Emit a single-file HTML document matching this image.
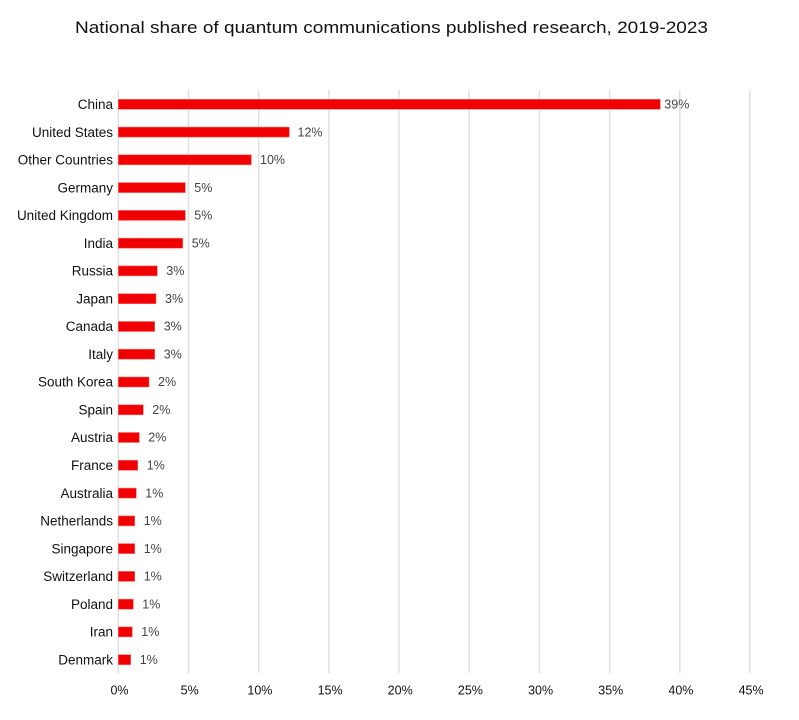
<!DOCTYPE html>
<html>
<head>
<meta charset="utf-8">
<style>
  html,body{margin:0;padding:0;background:#fff;}
  svg{display:block;}
  text{font-family:"Liberation Sans",Arial,sans-serif;}
</style>
</head>
<body>
<svg width="799" height="720" viewBox="0 0 799 720" xmlns="http://www.w3.org/2000/svg">
  <rect width="799" height="720" fill="#fff"/>
  <text x="75" y="33" font-size="17" fill="#111" textLength="633" lengthAdjust="spacingAndGlyphs">National share of quantum communications published research, 2019-2023</text>

  <!-- gridlines -->
  <g stroke="#e0e0e0" stroke-width="1.5">
    <line x1="118.3" y1="90" x2="118.3" y2="673"/>
    <line x1="188.5" y1="90" x2="188.5" y2="673"/>
    <line x1="258.7" y1="90" x2="258.7" y2="673"/>
    <line x1="328.9" y1="90" x2="328.9" y2="673"/>
    <line x1="399.0" y1="90" x2="399.0" y2="673"/>
    <line x1="469.2" y1="90" x2="469.2" y2="673"/>
    <line x1="539.4" y1="90" x2="539.4" y2="673"/>
    <line x1="609.6" y1="90" x2="609.6" y2="673"/>
    <line x1="679.7" y1="90" x2="679.7" y2="673"/>
    <line x1="749.9" y1="90" x2="749.9" y2="673"/>
  </g>

  <!-- tick labels -->
  <g font-size="12.5" fill="#111" text-anchor="middle">
    <text x="119.5" y="694.5">0%</text>
    <text x="189.7" y="694.5">5%</text>
    <text x="259.9" y="694.5">10%</text>
    <text x="330.1" y="694.5">15%</text>
    <text x="400.2" y="694.5">20%</text>
    <text x="470.4" y="694.5">25%</text>
    <text x="540.6" y="694.5">30%</text>
    <text x="610.8" y="694.5">35%</text>
    <text x="680.9" y="694.5">40%</text>
    <text x="751.1" y="694.5">45%</text>
  </g>

  <!-- bars -->
  <g fill="#f00000" stroke="#ff6b6b" stroke-width="0.6">
    <rect x="118.3" y="99.3" width="542.0" height="10"/>
    <rect x="118.3" y="127.1" width="171.0" height="10"/>
    <rect x="118.3" y="154.8" width="133.0" height="10"/>
    <rect x="118.3" y="182.6" width="67.0" height="10"/>
    <rect x="118.3" y="210.4" width="67.0" height="10"/>
    <rect x="118.3" y="238.2" width="64.4" height="10"/>
    <rect x="118.3" y="265.9" width="39.0" height="10"/>
    <rect x="118.3" y="293.7" width="37.7" height="10"/>
    <rect x="118.3" y="321.5" width="36.4" height="10"/>
    <rect x="118.3" y="349.2" width="36.4" height="10"/>
    <rect x="118.3" y="377.0" width="30.7" height="10"/>
    <rect x="118.3" y="404.8" width="25.0" height="10"/>
    <rect x="118.3" y="432.5" width="21.0" height="10"/>
    <rect x="118.3" y="460.3" width="19.4" height="10"/>
    <rect x="118.3" y="488.1" width="18.0" height="10"/>
    <rect x="118.3" y="515.9" width="16.4" height="10"/>
    <rect x="118.3" y="543.6" width="16.4" height="10"/>
    <rect x="118.3" y="571.4" width="16.4" height="10"/>
    <rect x="118.3" y="599.2" width="15.0" height="10"/>
    <rect x="118.3" y="626.9" width="14.0" height="10"/>
    <rect x="118.3" y="654.7" width="12.4" height="10"/>
  </g>

  <!-- category labels -->
  <g font-size="13.5" fill="#111" text-anchor="end">
    <text x="113" y="109">China</text>
    <text x="113" y="136.8">United States</text>
    <text x="113" y="164.5">Other Countries</text>
    <text x="113" y="192.3">Germany</text>
    <text x="113" y="220.1">United Kingdom</text>
    <text x="113" y="247.9">India</text>
    <text x="113" y="275.6">Russia</text>
    <text x="113" y="303.4">Japan</text>
    <text x="113" y="331.2">Canada</text>
    <text x="113" y="358.9">Italy</text>
    <text x="113" y="386.7">South Korea</text>
    <text x="113" y="414.5">Spain</text>
    <text x="113" y="442.2">Austria</text>
    <text x="113" y="470.0">France</text>
    <text x="113" y="497.8">Australia</text>
    <text x="113" y="525.6">Netherlands</text>
    <text x="113" y="553.3">Singapore</text>
    <text x="113" y="581.1">Switzerland</text>
    <text x="113" y="608.9">Poland</text>
    <text x="113" y="636.6">Iran</text>
    <text x="113" y="664.4">Denmark</text>
  </g>

  <!-- value labels -->
  <g font-size="12.5" fill="#444">
    <text x="664.3" y="108.5">39%</text>
    <text x="297.5" y="136.3">12%</text>
    <text x="260" y="164">10%</text>
    <text x="194.3" y="191.8">5%</text>
    <text x="194.3" y="219.6">5%</text>
    <text x="191.7" y="247.4">5%</text>
    <text x="166.3" y="275.1">3%</text>
    <text x="165" y="302.9">3%</text>
    <text x="163.7" y="330.7">3%</text>
    <text x="163.7" y="358.4">3%</text>
    <text x="158" y="386.2">2%</text>
    <text x="152.3" y="414">2%</text>
    <text x="148.3" y="441.7">2%</text>
    <text x="146.7" y="469.5">1%</text>
    <text x="145.3" y="497.3">1%</text>
    <text x="143.7" y="525.1">1%</text>
    <text x="143.7" y="552.8">1%</text>
    <text x="143.7" y="580.6">1%</text>
    <text x="142.3" y="608.4">1%</text>
    <text x="141.3" y="636.1">1%</text>
    <text x="139.7" y="663.9">1%</text>
  </g>
</svg>
</body>
</html>
